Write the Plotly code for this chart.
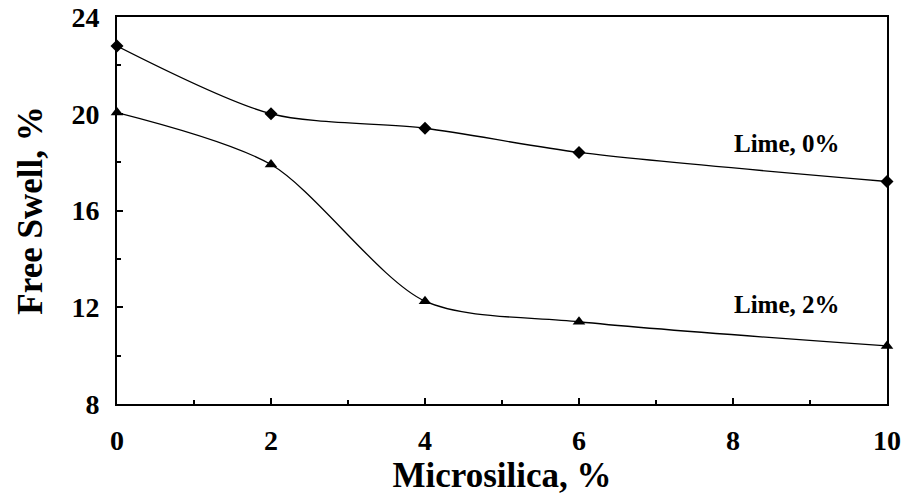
import plotly.graph_objects as go

microsilica = [0, 2, 4, 6, 10]
swell_lime0 = [22.8, 20.0, 19.4, 18.4, 17.2]
swell_lime2 = [20.05, 17.9, 12.25, 11.4, 10.4]

x_ticks = [0, 2, 4, 6, 8, 10]
y_ticks = [8, 12, 16, 20, 24]

font_family = "Liberation Serif, Times New Roman, serif"

fig = go.Figure()
fig.add_trace(go.Scatter(
    x=microsilica, y=swell_lime0, mode="lines+markers",
    line=dict(color="black", width=1.3, shape="spline", smoothing=0.8),
    marker=dict(symbol="diamond", size=10, color="black"),
    name="Lime, 0%", cliponaxis=False))
fig.add_trace(go.Scatter(
    x=microsilica, y=swell_lime2, mode="lines+markers",
    line=dict(color="black", width=1.3, shape="spline", smoothing=0.8),
    marker=dict(symbol="triangle-up", size=11, color="black"),
    name="Lime, 2%", cliponaxis=False))

fig.add_annotation(x=8.7, y=18.75, text="<b>Lime, 0%</b>", showarrow=False,
                   font=dict(family=font_family, size=25, color="black"))
fig.add_annotation(x=8.7, y=12.1, text="<b>Lime, 2%</b>", showarrow=False,
                   font=dict(family=font_family, size=25, color="black"))

axis_common = dict(
    showgrid=False, zeroline=False, showline=True, linecolor="black", linewidth=2,
    mirror=True, ticks="inside", ticklen=6, tickwidth=1.5, tickcolor="black",
    tickfont=dict(family=font_family, size=28, color="black"),
    ticklabeloverflow="allow",
)

fig.update_xaxes(
    range=[0, 10], tickvals=x_ticks, ticktext=[f"<b>{v}</b>" for v in x_ticks],
    ticklabelstandoff=10,
    minor=dict(dtick=1, ticks="inside", ticklen=4, tickcolor="black", tickwidth=1.5),
    title=dict(text="<b>Microsilica, %</b>", font=dict(family=font_family, size=35, color="black"), standoff=2),
    **axis_common)
fig.update_yaxes(
    range=[8, 24], tickvals=y_ticks, ticktext=[f"<b>{v}</b>" for v in y_ticks],
    ticklabelstandoff=10,
    minor=dict(dtick=2, ticks="inside", ticklen=4, tickcolor="black", tickwidth=1.5),
    title=dict(text="<b>Free Swell, %</b>", font=dict(family=font_family, size=35, color="black"), standoff=18),
    **axis_common)

fig.update_layout(
    width=912, height=503, showlegend=False,
    plot_bgcolor="white", paper_bgcolor="white",
    margin=dict(l=117, r=25, t=17, b=99, autoexpand=False),
)

fig.write_html("out.html", config={"displayModeBar": False},
               post_script="document.body.style.margin='0';")
